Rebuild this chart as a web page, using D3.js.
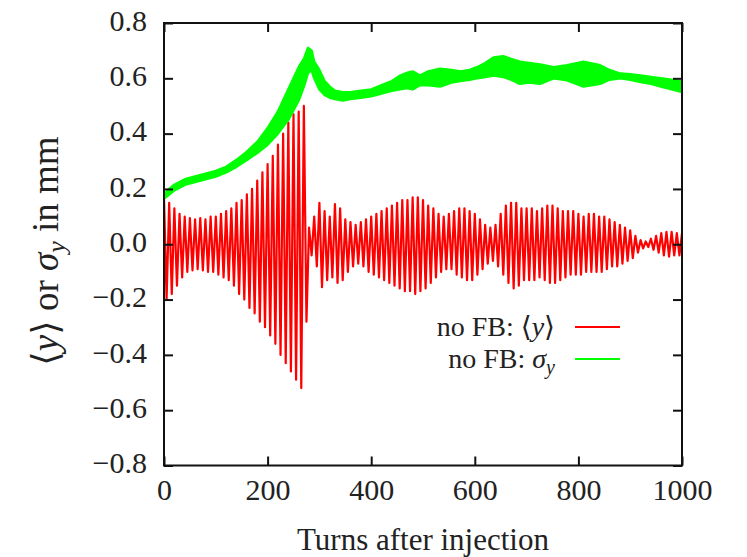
<!DOCTYPE html>
<html>
<head>
<meta charset="utf-8">
<script src="https://cdn.jsdelivr.net/npm/d3@7"></script>
<style>
  body { margin: 0; background: #fff; }
  text { font-family: "Liberation Serif", "DejaVu Serif", serif; fill: #222; }
</style>
</head>
<body>
<svg id="chart" width="747" height="557"></svg>
<script>
// ---------------------------------------------------------------
//    DATA
// ---------------------------------------------------------------
const xTicks = [0, 200, 400, 600, 800, 1000];
const yTicks = [-0.8, -0.6, -0.4, -0.2, 0.0, 0.2, 0.4, 0.6, 0.8];

// <y> without feedback: one extreme every redStep turns (max, min, max, ...)
const redStep = 5;
const redPeaks = [
    0.17, -0.20, 0.15, -0.18, 0.13, -0.15, 0.11, -0.12, 0.10, -0.10,
    0.095, -0.095, 0.09, -0.09, 0.095, -0.095, 0.09, -0.10, 0.10, -0.10,
    0.10, -0.11, 0.11, -0.12, 0.12, -0.13, 0.13, -0.15, 0.15, -0.18,
    0.16, -0.20, 0.18, -0.23, 0.20, -0.25, 0.23, -0.28, 0.26, -0.30,
    0.29, -0.33, 0.32, -0.36, 0.36, -0.40, 0.40, -0.43, 0.44, -0.46,
    0.47, -0.49, 0.48, -0.52, 0.50, -0.28, 0.06, -0.04, 0.10, -0.08,
    0.15, -0.155, 0.12, -0.13, 0.10, -0.12, 0.145, -0.14, 0.13, -0.13,
    0.09, -0.10, 0.08, -0.08, 0.07, -0.07, 0.08, -0.08, 0.09, -0.10,
    0.10, -0.11, 0.11, -0.12, 0.12, -0.13, 0.13, -0.14, 0.14, -0.15,
    0.15, -0.16, 0.16, -0.17, 0.16, -0.17, 0.17, -0.18, 0.17, -0.17,
    0.16, -0.16, 0.14, -0.14, 0.13, -0.12, 0.11, -0.10, 0.10, -0.09,
    0.11, -0.09, 0.12, -0.11, 0.13, -0.12, 0.13, -0.13, 0.12, -0.13,
    0.11, -0.11, 0.09, -0.09, 0.07, -0.07, 0.06, -0.06, 0.07, -0.08,
    0.11, -0.11, 0.14, -0.14, 0.15, -0.16, 0.15, -0.15, 0.13, -0.13,
    0.13, -0.13, 0.13, -0.13, 0.12, -0.12, 0.13, -0.13, 0.14, -0.14,
    0.14, -0.14, 0.13, -0.13, 0.12, -0.12, 0.12, -0.11, 0.12, -0.11,
    0.11, -0.11, 0.10, -0.10, 0.11, -0.10, 0.11, -0.10, 0.10, -0.10,
    0.10, -0.09, 0.09, -0.08, 0.08, -0.08, 0.07, -0.07, 0.06, -0.06,
    0.05, -0.05, 0.03, -0.03, 0.015, -0.015, 0.01, -0.01, 0.02, -0.02,
    0.03, -0.03, 0.04, -0.04, 0.045, -0.045, 0.045, -0.04, 0.04, -0.04,
    0.04
];

// sigma_y without feedback: band between low and high
const greenTurns = [0, 10, 20, 40, 60, 80, 100, 120, 140, 160, 180, 200, 220, 240, 260, 270,
    278, 285, 290, 300, 310, 320, 330, 345, 360, 380, 400, 420, 440, 456, 470, 480, 494,
    510, 533, 555, 572, 590, 604, 620, 636, 655, 670, 687, 705, 726, 752, 778, 810, 842,
    860, 881, 900, 920, 940, 959, 980, 1000];
const greenLow = [0.165, 0.18, 0.195, 0.215, 0.225, 0.235, 0.245, 0.26, 0.28, 0.305, 0.33, 0.36, 0.40, 0.45, 0.52, 0.57,
    0.62, 0.63, 0.60, 0.56, 0.54, 0.53, 0.525, 0.52, 0.525, 0.53, 0.535, 0.545, 0.555, 0.56, 0.565, 0.56, 0.575,
    0.575, 0.57, 0.585, 0.59, 0.595, 0.60, 0.605, 0.61, 0.605, 0.595, 0.58, 0.585, 0.58, 0.60, 0.593, 0.57, 0.58,
    0.595, 0.60, 0.595, 0.587, 0.58, 0.57, 0.56, 0.55];
const greenHigh = [0.18, 0.20, 0.215, 0.235, 0.245, 0.255, 0.265, 0.28, 0.305, 0.335, 0.37, 0.42, 0.48, 0.56, 0.64, 0.67,
    0.71, 0.70, 0.66, 0.63, 0.59, 0.57, 0.555, 0.55, 0.55, 0.555, 0.56, 0.575, 0.59, 0.61, 0.62, 0.625, 0.61,
    0.625, 0.635, 0.63, 0.625, 0.63, 0.64, 0.655, 0.675, 0.68, 0.67, 0.66, 0.655, 0.65, 0.64, 0.647, 0.66, 0.647,
    0.63, 0.617, 0.615, 0.61, 0.605, 0.60, 0.595, 0.588];

const redColor = "#ff0000";
const greenColor = "#00ff00";

// ---------------------------------------------------------------
//    CHART
// ---------------------------------------------------------------
const svg = d3.select("#chart");
const plotLeft = 164, plotRight = 682, plotTop = 23, plotBottom = 465.5;

const x = d3.scaleLinear().domain([0, 1000]).range([plotLeft, plotRight]);
const y = d3.scaleLinear().domain([-0.8, 0.8]).range([plotBottom, plotTop]);

svg.append("clipPath").attr("id", "plot-clip")
    .append("rect")
    .attr("x", plotLeft).attr("y", plotTop)
    .attr("width", plotRight - plotLeft).attr("height", plotBottom - plotTop);

const plot = svg.append("g").attr("clip-path", "url(#plot-clip)");

// red <y>
const redLine = d3.line()
    .x((d, i) => x(i * redStep))
    .y(d => y(d));

plot.append("path")
    .datum(redPeaks)
    .attr("d", redLine)
    .attr("fill", "none")
    .attr("stroke", redColor)
    .attr("stroke-width", 2.2)
    .attr("stroke-linejoin", "round");

// green sigma_y band
const greenRows = greenTurns.map((t, i) => ({ t: t, lo: greenLow[i], hi: greenHigh[i] }));
const greenArea = d3.area()
    .x(d => x(d.t))
    .y0(d => y(d.lo))
    .y1(d => y(d.hi));

plot.append("path")
    .datum(greenRows)
    .attr("d", greenArea)
    .attr("fill", greenColor)
    .attr("stroke", greenColor)
    .attr("stroke-width", 2.5)
    .attr("stroke-linejoin", "round");

// axes, ticks pointing inward on all four sides
const fmt = d3.format(".1f");

const yAxis = svg.append("g")
    .attr("transform", `translate(${plotLeft},0)`)
    .call(d3.axisLeft(y).tickValues(yTicks).tickFormat(fmt).tickSize(-9).tickPadding(17));
const xAxis = svg.append("g")
    .attr("transform", `translate(0,${plotBottom})`)
    .call(d3.axisBottom(x).tickValues(xTicks).tickFormat(d3.format("d")).tickSize(-9).tickPadding(13));
svg.append("g")
    .attr("transform", `translate(0,${plotTop})`)
    .call(d3.axisTop(x).tickValues(xTicks).tickFormat("").tickSize(-9));
svg.append("g")
    .attr("transform", `translate(${plotRight},0)`)
    .call(d3.axisRight(y).tickValues(yTicks).tickFormat("").tickSize(-9));

svg.selectAll(".domain").remove();
svg.selectAll(".tick line").attr("stroke", "#111").attr("stroke-width", 2);
svg.selectAll(".tick text")
    .style("font-family", "'Liberation Serif', 'DejaVu Serif', serif")
    .style("font-size", "30px")
    .attr("fill", "#2a2a2a");
yAxis.selectAll(".tick text").attr("dy", "0.24em");

svg.append("rect")
    .attr("x", plotLeft).attr("y", plotTop)
    .attr("width", plotRight - plotLeft).attr("height", plotBottom - plotTop)
    .attr("fill", "none")
    .attr("stroke", "#111")
    .attr("stroke-width", 2);

// axis titles
svg.append("text")
    .attr("x", (plotLeft + plotRight) / 2)
    .attr("y", 550)
    .attr("text-anchor", "middle")
    .style("font-size", "31px")
    .attr("fill", "#111")
    .text("Turns after injection");

const yTitle = svg.append("text")
    .attr("transform", "translate(58,251) rotate(-90)")
    .attr("text-anchor", "middle")
    .style("font-size", "37px")
    .attr("fill", "#2a2a2a");
yTitle.append("tspan").text("\u27E8");
yTitle.append("tspan").style("font-style", "italic").text("y");
yTitle.append("tspan").text("\u27E9 or ");
yTitle.append("tspan").style("font-style", "italic").text("\u03C3");
yTitle.append("tspan").style("font-style", "italic").style("font-size", "26px").attr("dy", "7").text("y");
yTitle.append("tspan").attr("dy", "-7").text(" in mm");

// legend
const legend = svg.append("g");
const row1 = legend.append("text")
    .attr("x", 555).attr("y", 336)
    .attr("text-anchor", "end")
    .style("font-size", "28px")
    .attr("fill", "#222");
row1.append("tspan").text("no FB: \u27E8");
row1.append("tspan").style("font-style", "italic").text("y");
row1.append("tspan").text("\u27E9");

const row2 = legend.append("text")
    .attr("x", 555).attr("y", 368)
    .attr("text-anchor", "end")
    .style("font-size", "28px")
    .attr("fill", "#222");
row2.append("tspan").text("no FB: ");
row2.append("tspan").style("font-style", "italic").text("\u03C3");
row2.append("tspan").style("font-style", "italic").style("font-size", "20px").attr("dy", "6").text("y");

legend.append("line")
    .attr("x1", 575).attr("x2", 620).attr("y1", 327).attr("y2", 327)
    .attr("stroke", redColor).attr("stroke-width", 2);
legend.append("line")
    .attr("x1", 575).attr("x2", 620).attr("y1", 359).attr("y2", 359)
    .attr("stroke", greenColor).attr("stroke-width", 2);
</script>
</body>
</html>
